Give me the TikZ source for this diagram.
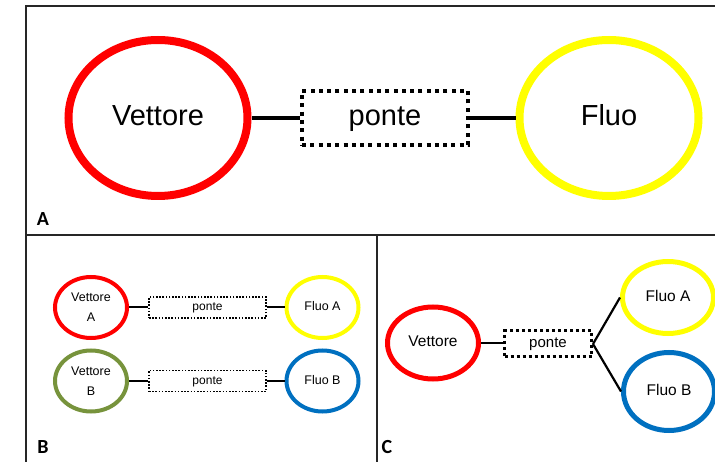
\documentclass[tikz,border=0pt]{standalone}
\usepackage{fontspec}
\setmainfont{Liberation Sans}
\newfontfamily\labfont{Carlito}
\usetikzlibrary{shapes.geometric}
\definecolor{cred}{HTML}{FF0000}
\definecolor{cyellow}{HTML}{FFFF00}
\definecolor{cgreen}{HTML}{77933C}
\definecolor{cblue}{HTML}{0070C0}
\tikzset{
  frame/.style={draw=black!85, line width=2.4pt},
  fixA/.style={text height=20pt, text depth=5pt},
  fixB/.style={text height=8.4pt, text depth=2pt},
  fixC/.style={text height=10.5pt, text depth=2.5pt},
  ellA/.style={ellipse, draw, fixA, line width=8pt, minimum width=179pt, minimum height=156pt, inner sep=0pt, font=\fontsize{29}{32}\selectfont},
  ellB/.style={ellipse, draw, line width=4pt, minimum width=72pt, minimum height=61pt, inner sep=0pt, font=\fontsize{12.5}{14}\selectfont, align=center},
  ellC/.style={ellipse, draw, fixC, line width=5pt, minimum width=91pt, minimum height=72pt, inner sep=0pt, font=\fontsize{15.5}{18}\selectfont},
  ponteA/.style={draw, fixA, line width=4pt, dash pattern=on 4pt off 4.3pt, minimum width=166pt, minimum height=54pt, inner sep=0pt, font=\fontsize{29}{32}\selectfont},
  ponteB/.style={draw, fixB, line width=1.6pt, dash pattern=on 1.6pt off 1.6pt, minimum width=117pt, minimum height=21pt, inner sep=0pt, font=\fontsize{12}{14}\selectfont},
  ponteC/.style={draw, fixC, line width=3pt, dash pattern=on 3pt off 3pt, minimum width=87pt, minimum height=26pt, inner sep=0pt, font=\fontsize{15}{18}\selectfont},
  linkA/.style={line width=4pt},
  linkB/.style={line width=2pt},
  linkC/.style={line width=2.2pt},
  panellab/.style={font=\labfont\bfseries\fontsize{20}{22}\selectfont, inner sep=0pt},
}
\begin{document}
\begin{tikzpicture}[x=1pt,y=-1pt]
\useasboundingbox (0,0) rectangle (715,462);
\fill[white] (0,0) rectangle (715,462);
% frames
\draw[frame] (26,6) rectangle (722,235);
\draw[frame] (26,235) rectangle (377,470);
\draw[frame] (377,235) rectangle (722,470);
% Panel A
\node[ellA, draw=cred] (va) at (158,118) {Vettore};
\node[ponteA] (pa) at (385,118) {ponte};
\node[ellA, draw=cyellow] (fa) at (609,118) {Fluo};
\draw[linkA] (va.east) -- (pa.west);
\draw[linkA] (pa.east) -- (fa.west);
\node[panellab] (la) at (43,219) {A};
% Panel B
\node[ellB, draw=cred] (vb1) at (91,307.5) {Vettore\\[6pt]A};
\node[ellB, draw=cgreen] (vb2) at (91,381) {Vettore\\[6pt]B};
\node[ponteB] (pb1) at (207.5,307.5) {ponte};
\node[ponteB] (pb2) at (207.5,381) {ponte};
\node[ellB, draw=cyellow, fixB] (fb1) at (322.5,307.5) {Fluo A};
\node[ellB, draw=cblue, fixB] (fb2) at (322.5,381) {Fluo B};
\draw[linkB] (vb1.east) -- (pb1.west);
\draw[linkB] (pb1.east) -- (fb1.west);
\draw[linkB] (vb2.east) -- (pb2.west);
\draw[linkB] (pb2.east) -- (fb2.west);
\node[panellab] (lb) at (43,447) {B};
% Panel C
\node[ellC, draw=cred] (vc) at (433,343) {Vettore};
\node[ponteC] (pc) at (548,344) {ponte};
\node[ellC, draw=cyellow] (fca) at (668,297.5) {Fluo A};
\node[ellC, draw=cblue, minimum height=78pt] (fcb) at (669,391.5) {Fluo B};
\draw[linkC] (vc.east) -- (vc.east -| pc.west);
\draw[linkC] (pc.east) -- (fca.west);
\draw[linkC] (pc.east) -- (fcb.west);
\node[panellab] (lc) at (387,447) {C};
\end{tikzpicture}
\end{document}
